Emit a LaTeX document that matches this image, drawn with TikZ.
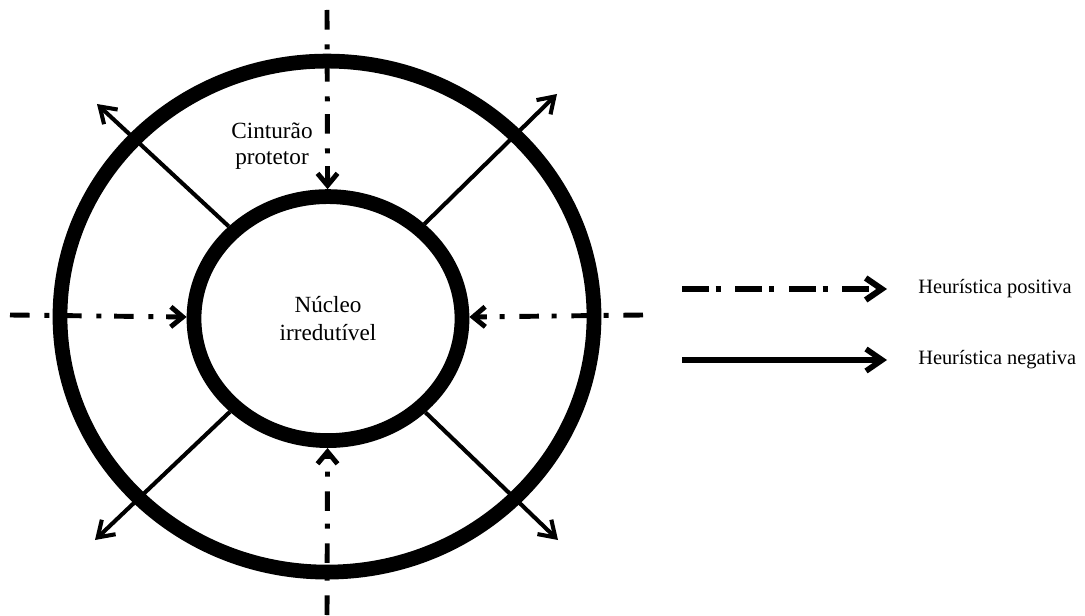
\documentclass[tikz,border=0pt]{standalone}
\usepackage{fontspec}
\setmainfont{Liberation Serif}
\usetikzlibrary{arrows.meta,shapes.geometric,positioning}

\begin{document}
\begin{tikzpicture}[
  font=\fontsize{16.5}{18}\selectfont,
  ring/.style={draw, ellipse, line width=10.5pt, inner sep=0pt},
  posarr/.style={line width=3.5pt, dash pattern=on 14pt off 10.5pt on 3.5pt off 9pt,
    -{Straight Barb[length=3mm, width=5mm]}},
  negarr/.style={line width=2.9pt, -{Straight Barb[length=3.8mm, width=5mm]}},
  legpos/.style={line width=4.3pt, dash pattern=on 19pt off 5pt on 3.5pt off 10.5pt,
    -{Straight Barb[length=4mm, width=5.5mm]}},
  legneg/.style={line width=4pt, -{Straight Barb[length=4mm, width=5.5mm]}},
  legtxt/.style={font=\fontsize{14.5}{17}\selectfont, inner sep=0pt}
]
\useasboundingbox (0,0) rectangle (27.125,15.375);

% belt and core
\node[ring, minimum width=13.35cm, minimum height=12.775cm] (cinturao) at (8.175,7.46) {};
\node[ring, minimum width=6.7cm, minimum height=6.1cm, align=center] (nucleo) at (8.2,7.41)
  {Núcleo\\[2pt] irredutível};
\node[align=center] (cintlbl) at (6.8,11.72) {Cinturão\\ protetor};

% positive heuristic: dash-dot arrows onto the core
\coordinate (pn) at (8.175,15.125);
\coordinate (ps) at (8.175,0);
\coordinate (pw) at (0.25,7.5);
\coordinate (pe) at (16.075,7.5);
\foreach \c in {pn,ps,pw,pe}
  \draw[posarr] (\c) -- (nucleo);

% negative heuristic: solid arrows out of the belt
\coordinate (qnw) at (2.425,12.775);
\coordinate (qne) at (13.925,13.025);
\coordinate (qsw) at (2.375,1.875);
\coordinate (qse) at (13.95,1.875);
\foreach \c in {qnw,qne,qsw,qse}
  \draw[negarr] (nucleo) -- (\c);

% legend
\coordinate (lp0) at (17.05,8.15);
\coordinate (lp1) at (22.175,8.15);
\coordinate (ln0) at (17.05,6.375);
\coordinate (ln1) at (22.175,6.375);
\draw[legpos] (lp0) -- (lp1);
\draw[legneg] (ln0) -- (ln1);
\node[legtxt, right=0.775cm of lp1] (lblpos) {Heurística positiva};
\node[legtxt, right=0.775cm of ln1] (lblneg) {Heurística negativa};

\end{tikzpicture}
\end{document}
